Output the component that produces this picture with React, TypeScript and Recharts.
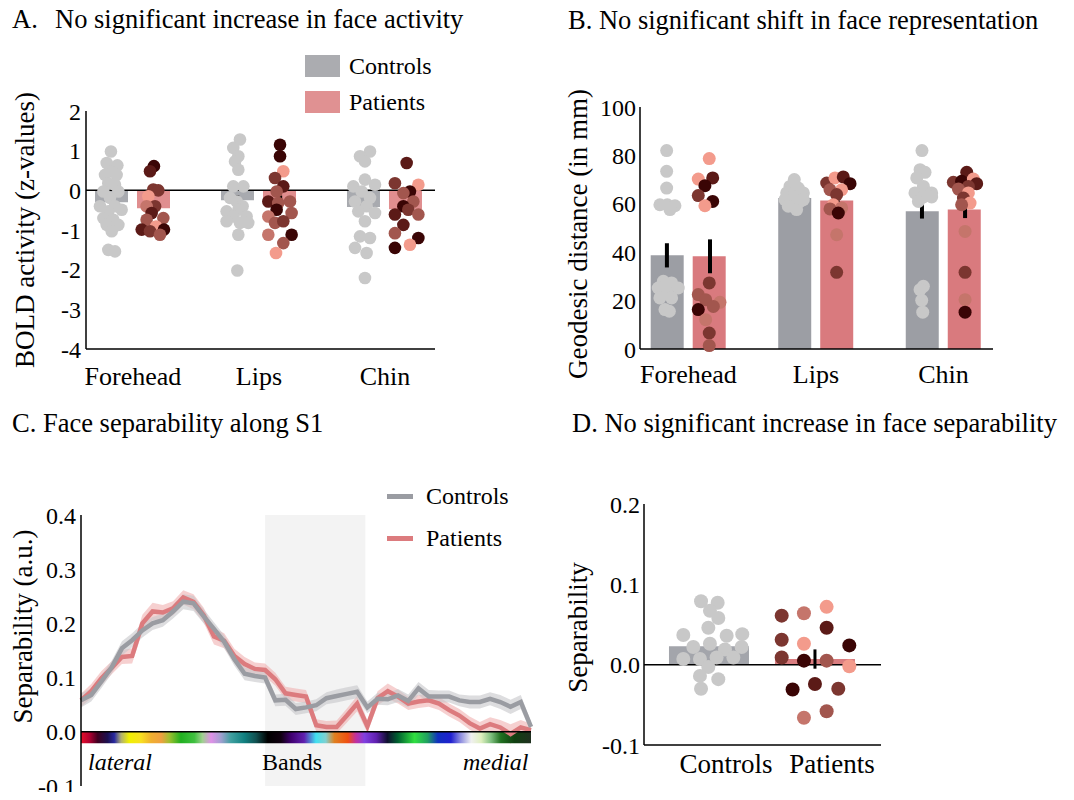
import {
  ComposedChart, Bar, Scatter, Line, Area, XAxis, YAxis, ReferenceLine, ReferenceArea,
  ErrorBar, Legend, Cell,
} from 'recharts';

const FONT = '"Liberation Serif", "DejaVu Serif", serif';

// shared
const faceParts = ['Forehead', 'Lips', 'Chin'];
const groupNames = ['Controls', 'Patients'];
const patientShades = ['#3a0505', '#5b1a17', '#7c3630', '#a2564e', '#c5756b', '#f39b8c'];
const controlDot = '#c8c8c8';

// A. BOLD activity (z-values)
const activityControls = [-0.3, -0.25, -0.42];
const activityPatients = [-0.45, -0.35, -0.48];
const activityControlsSem = [0.07, 0.12, 0.08];
const activityPatientsSem = [0.1, 0.22, 0.12];
const activityTicks = [-4, -3, -2, -1, 0, 1, 2];
// [x, z]
const activityControlPts = [
  [-0.175, 0.98], [-0.209, 0.69], [-0.124, 0.63], [-0.183, 0.48], [-0.222, 0.39], [-0.13, 0.39],
  [-0.196, 0.18], [-0.143, 0.14], [-0.235, -0.03], [-0.116, -0.03], [-0.183, -0.19], [-0.262, -0.4],
  [-0.143, -0.4], [-0.196, -0.53], [-0.09, -0.49], [-0.235, -0.7], [-0.156, -0.74], [-0.209, -0.87],
  [-0.116, -0.87], [-0.169, -1.03], [-0.196, -1.5], [-0.143, -1.54],
  [0.849, 1.28], [0.796, 1.07], [0.836, 0.86], [0.81, 0.73], [0.836, 0.52], [0.796, 0.1],
  [0.876, 0.1], [0.77, -0.19], [0.823, -0.28], [0.87, -0.4], [0.743, -0.53], [0.836, -0.49],
  [0.796, -0.66], [0.902, -0.66], [0.743, -0.78], [0.849, -0.82], [0.915, -0.82], [0.836, -1.12],
  [0.828, -2.02],
  [1.881, 0.98], [1.802, 0.86], [1.841, 0.73], [1.841, 0.27], [1.749, 0.1], [1.921, 0.14],
  [1.815, -0.03], [1.881, -0.19], [1.762, -0.28], [1.854, -0.4], [1.788, -0.53], [1.921, -0.57],
  [1.841, -0.78], [1.802, -1.16], [1.881, -1.2], [1.762, -1.45], [1.854, -1.58], [1.841, -2.21],
];
// [x, z, shade]
const activityPatientPts = [
  [0.166, 0.61, 0], [0.135, 0.48, 1], [0.161, 0.02, 2], [0.201, 0.0, 2], [0.122, -0.15, 5],
  [0.175, -0.4, 2], [0.108, -0.4, 4], [0.148, -0.57, 1], [0.108, -0.74, 3], [0.241, -0.7, 3],
  [0.069, -0.99, 1], [0.183, -0.91, 5], [0.135, -1.03, 2], [0.246, -0.99, 0], [0.214, -1.12, 3],
  [1.167, 1.15, 0], [1.167, 0.86, 0], [1.193, 0.48, 5], [1.127, 0.31, 2], [1.193, 0.1, 1],
  [1.14, -0.03, 3], [1.074, -0.28, 1], [1.153, -0.32, 3], [1.246, -0.28, 3], [1.14, -0.49, 0],
  [1.074, -0.66, 4], [1.259, -0.57, 3], [1.127, -0.82, 3], [1.193, -0.78, 2], [1.074, -1.12, 4],
  [1.259, -1.12, 0], [1.193, -1.33, 3], [1.135, -1.58, 5],
  [2.172, 0.69, 1], [2.079, 0.18, 2], [2.265, 0.14, 5], [2.198, -0.03, 0], [2.146, -0.07, 3],
  [2.225, -0.28, 3], [2.146, -0.4, 0], [2.079, -0.61, 1], [2.185, -0.49, 2], [2.265, -0.61, 3],
  [2.146, -0.87, 1], [2.079, -1.08, 3], [2.265, -1.2, 0], [2.198, -1.37, 5], [2.079, -1.45, 0],
];

// B. Geodesic distance (in mm)
const distanceControls = [38.7, 62.4, 56.9];
const distancePatients = [38.3, 61.4, 57.6];
const distanceControlsSem = [5, 2, 3];
const distancePatientsSem = [7, 3, 3.5];
const distanceTicks = [0, 20, 40, 60, 80, 100];
const distanceControlPts = [
  [-0.171, 82], [-0.171, 73.4], [-0.171, 66.5], [-0.224, 59.6], [-0.166, 59.6], [-0.106, 59.2],
  [-0.145, 57.6], [-0.197, 28], [-0.132, 27.3], [-0.237, 25.2], [-0.08, 25.2], [-0.171, 23.8],
  [-0.224, 21.1], [-0.132, 21.1], [-0.184, 16.3], [-0.15, 15.6],
  [0.83, 70], [0.796, 67.2], [0.861, 66.5], [0.77, 64.5], [0.901, 64.5], [0.822, 63.1],
  [0.757, 61.7], [0.875, 61], [0.809, 59.6], [0.848, 57.6], [0.783, 59], [0.901, 61.7],
  [1.831, 82], [1.816, 74.1], [1.855, 73], [1.79, 70.7], [1.842, 67.2], [1.776, 64.5],
  [1.907, 64.5], [1.842, 62.8], [1.803, 61], [1.907, 62.8], [1.842, 25.9], [1.816, 24.5],
  [1.829, 20.1], [1.837, 15.2],
];
const distancePatientPts = [
  [0.163, 78.7, 5], [0.077, 70.2, 5], [0.19, 70.7, 1], [0.129, 67.5, 0], [0.077, 63.4, 2],
  [0.19, 61, 0], [0.129, 59.2, 5], [0.163, 27.3, 2], [0.077, 22.5, 3], [0.135, 20.4, 3],
  [0.247, 19.3, 4], [0.195, 17.6, 3], [0.077, 16.3, 0], [0.135, 12.1, 4], [0.163, 6.6, 2],
  [0.163, 1.4, 3],
  [1.084, 68.6, 2], [1.149, 70.7, 5], [1.214, 71.1, 1], [1.267, 68.3, 0], [1.11, 65.8, 3],
  [1.201, 65.8, 5], [1.162, 63.8, 2], [1.136, 59.6, 5], [1.201, 58.3, 4], [1.11, 57.9, 3],
  [1.175, 56.2, 0], [1.162, 47.2, 4], [1.162, 31.7, 2],
  [2.182, 73, 1], [2.077, 68.9, 2], [2.142, 69.3, 0], [2.234, 70.2, 5], [2.26, 68.3, 1],
  [2.195, 67.2, 2], [2.117, 66.1, 3], [2.195, 64.5, 5], [2.156, 62.4, 2], [2.208, 60.3, 5],
  [2.142, 59.6, 3], [2.169, 48.6, 4], [2.169, 31.7, 2], [2.169, 20.4, 4], [2.169, 15.2, 0],
];

// C. Separability along S1 (lateral -> medial)
const controlsSep = [
  0.058, 0.068, 0.093, 0.119, 0.154, 0.169, 0.187, 0.2, 0.206, 0.222, 0.24, 0.237, 0.213, 0.19,
  0.166, 0.134, 0.107, 0.103, 0.1, 0.058, 0.059, 0.042, 0.045, 0.049, 0.062, 0.066, 0.07, 0.074,
  0.045, 0.061, 0.06, 0.067, 0.057, 0.08, 0.065, 0.065, 0.065, 0.058, 0.055, 0.055, 0.061, 0.055,
  0.046, 0.055, 0.009,
];
const patientsSep = [
  0.058, 0.075, 0.099, 0.118, 0.138, 0.14, 0.2, 0.222, 0.22, 0.228, 0.248, 0.24, 0.215, 0.176,
  0.168, 0.14, 0.125, 0.116, 0.114, 0.097, 0.071, 0.068, 0.065, 0.012, 0.009, 0.009, 0.03, 0.052,
  0.01, 0.062, 0.075, 0.065, 0.052, 0.056, 0.058, 0.052, 0.04, 0.03, 0.016, 0.006, 0.014, 0.008,
  -0.004, 0.008, 0.003,
];
const controlsSepSem = [
  0.013, 0.012, 0.012, 0.012, 0.013, 0.013, 0.013, 0.012, 0.012, 0.013, 0.014, 0.014, 0.013, 0.012,
  0.012, 0.012, 0.012, 0.011, 0.011, 0.011, 0.011, 0.011, 0.011, 0.011, 0.011, 0.012, 0.012, 0.012,
  0.011, 0.011, 0.011, 0.012, 0.012, 0.012, 0.012, 0.011, 0.011, 0.011, 0.012, 0.012, 0.012, 0.013,
  0.013, 0.013, 0.01,
];
const patientsSepSem = [
  0.012, 0.013, 0.013, 0.012, 0.013, 0.014, 0.016, 0.016, 0.014, 0.013, 0.013, 0.014, 0.014, 0.015,
  0.014, 0.013, 0.013, 0.012, 0.012, 0.012, 0.012, 0.012, 0.012, 0.011, 0.011, 0.012, 0.013, 0.014,
  0.012, 0.013, 0.014, 0.013, 0.012, 0.012, 0.012, 0.012, 0.012, 0.012, 0.012, 0.012, 0.013, 0.014,
  0.018, 0.014, 0.012,
];
const separabilityTicks = [-0.1, 0, 0.1, 0.2, 0.3, 0.4];
const bandsRegion = [18, 27.8];
const bandStops = [
  0, 0.019, 0.037, 0.059, 0.074, 0.089, 0.107, 0.133, 0.156, 0.178, 0.196, 0.222, 0.252, 0.27,
  0.289, 0.311, 0.333, 0.363, 0.389, 0.415, 0.444, 0.467, 0.496, 0.522, 0.544, 0.563, 0.593, 0.611,
  0.63, 0.656, 0.681, 0.704, 0.741, 0.77, 0.793, 0.822, 0.844, 0.867, 0.889, 0.911, 0.933, 0.963, 1,
];
const bandColors = [
  '#e8102a', '#b00030', '#400020', '#1c1050', '#2828a0', '#b0b070', '#f0f000', '#f8e020', '#f0b030',
  '#f0a040', '#a0c030', '#20b020', '#40c040', '#a0d090', '#e090e8', '#a0a0d0', '#40a0a0', '#108080',
  '#105050', '#000000', '#100010', '#400070', '#6020b0', '#40e0f0', '#80d0d0', '#e08020', '#f05010',
  '#c030a0', '#8040e0', '#6020b0', '#101030', '#006030', '#30e040', '#20a060', '#1030c0', '#2020d0',
  '#9090e0', '#f0f0f0', '#e0f0c0', '#80c080', '#207020', '#104010', '#203020',
];

// D. Face separability
const faceSeparability = [0.0228, 0.007];
const faceSeparabilitySem = [0.001, 0.012];
const faceSeparabilityTicks = [-0.1, 0, 0.1, 0.2];
const sepControlPts = [
  [-0.075, 0.079], [0.082, 0.077], [0.009, 0.067], [0.088, 0.058], [-0.242, 0.037], [-0.006, 0.046],
  [0.167, 0.036], [0.314, 0.038], [-0.148, 0.022], [0.009, 0.026], [0.151, 0.019], [0.308, 0.022],
  [-0.242, 0.007], [-0.085, 0.007], [0.072, 0.009], [0.23, 0.009], [-0.006, -0.003], [-0.085, -0.014],
  [0.088, -0.018], [-0.075, -0.03],
];
const sepPatientPts = [
  [0.686, 0.061, 2], [0.896, 0.064, 4], [1.11, 0.072, 5], [1.11, 0.046, 1], [0.686, 0.031, 2],
  [0.896, 0.026, 5], [1.324, 0.024, 0], [0.686, 0.009, 2], [0.896, 0.005, 0], [1.11, 0.005, 3],
  [1.324, -0.002, 5], [0.789, -0.031, 0], [1.0, -0.024, 1], [1.22, -0.03, 2], [0.896, -0.066, 4],
  [1.11, -0.058, 3],
];

const tickStyle = { fill: '#000', fontSize: 24, fontFamily: FONT };
const axisStyle = { stroke: '#000', strokeWidth: 1.5 };

const toPts = (pts: number[][], fill?: string) =>
  pts.map(([x, y, s]) => ({ x, y, fill: fill ?? patientShades[s] }));

const dotShape = (r: number) => (p: any) => <circle cx={p.cx} cy={p.cy} r={r} fill={p.payload.fill} />;
const noShape = () => <g />;

const means = (vals: number[], sems: number[], shift: number) =>
  vals.map((v, i) => ({ x: i + shift, y: v, err: sems[i] }));

const yLabel = (text: string, gap: number, shift = 0) => (props: any) => {
  const { x, y, width, height } = props.viewBox;
  const cx = x + width - gap;
  const cy = y + height / 2 + shift;
  return (
    <text x={cx} y={cy} transform={`rotate(-90 ${cx} ${cy})`} textAnchor="middle"
      dominantBaseline="central" fontSize={27} fontFamily={FONT} fill="#000">
      {text}
    </text>
  );
};

const boxLegend = (colors: string[]) => () => (
  <div style={{ fontFamily: FONT, fontSize: 24, color: '#000' }}>
    {groupNames.map((name, i) => (
      <div key={name} style={{ display: 'flex', alignItems: 'center', height: 36 }}>
        <span style={{ width: 35, height: 22, background: colors[i], marginRight: 9 }} />
        {name}
      </div>
    ))}
  </div>
);

const lineLegend = (colors: string[]) => () => (
  <div style={{ fontFamily: FONT, fontSize: 24, color: '#000' }}>
    {groupNames.map((name, i) => (
      <div key={name} style={{ display: 'flex', alignItems: 'center', height: 42 }}>
        <span style={{ width: 26, height: 5, background: colors[i], marginRight: 13 }} />
        {name}
      </div>
    ))}
  </div>
);

function ActivityChart() {
  const bars = faceParts.map((_, i) => ({ x: i, controls: activityControls[i], patients: activityPatients[i] }));
  const domain = [-0.373, 2.397];
  return (
    <ComposedChart width={540} height={440} data={bars} margin={{ top: 111, right: 105, bottom: 51, left: 26 }} barGap={9}>
      <XAxis xAxisId="cat" type="number" dataKey="x" domain={domain} allowDataOverflow ticks={[0, 1, 2]} interval={0}
        tickFormatter={(v) => faceParts[v]} axisLine={axisStyle} tickLine={false} tickSize={0} tickMargin={18}
        height={40} tick={{ ...tickStyle, fontSize: 26 }} />
      <XAxis xAxisId="pts" type="number" dataKey="x" domain={domain} allowDataOverflow hide />
      <YAxis type="number" domain={[-4, 2]} ticks={activityTicks} interval={0} width={60} axisLine={axisStyle}
        tickLine={false} tickSize={0} tickMargin={5} tick={tickStyle} label={yLabel('BOLD activity (z-values)', 61)} />
      <Bar xAxisId="cat" dataKey="controls" fill="#a8aaaf" barSize={33} isAnimationActive={false} />
      <Bar xAxisId="cat" dataKey="patients" fill="#e08e8f" barSize={33} isAnimationActive={false} />
      <ReferenceLine xAxisId="cat" y={0} stroke="#000" strokeWidth={1.5} />
      <Scatter xAxisId="pts" data={toPts(activityControlPts, controlDot)} dataKey="y" shape={dotShape(6.3)} isAnimationActive={false} />
      <Scatter xAxisId="pts" data={toPts(activityPatientPts)} dataKey="y" shape={dotShape(6.3)} isAnimationActive={false} />
      <Scatter xAxisId="pts" data={[...means(activityControls, activityControlsSem, -0.17), ...means(activityPatients, activityPatientsSem, 0.17)]}
        dataKey="y" shape={noShape} isAnimationActive={false}>
        <ErrorBar dataKey="err" direction="y" width={0} stroke="#000" strokeWidth={3.5} />
      </Scatter>
      <Legend content={boxLegend(['#abacb0', '#e09192'])} layout="vertical" align="center" verticalAlign="middle"
        wrapperStyle={{ left: 305, top: 48, width: 'auto' }} />
    </ComposedChart>
  );
}

function DistanceChart() {
  const bars = faceParts.map((_, i) => ({ x: i, controls: distanceControls[i], patients: distancePatients[i] }));
  const domain = [-0.38, 2.388];
  return (
    <ComposedChart width={534} height={440} data={bars} margin={{ top: 107, right: 81, bottom: 51, left: 40 }} barGap={9}>
      <XAxis xAxisId="cat" type="number" dataKey="x" domain={domain} allowDataOverflow ticks={[0, 1, 2]} interval={0}
        tickFormatter={(v) => faceParts[v]} axisLine={axisStyle} tickLine={false} tickSize={0} tickMargin={16}
        height={40} tick={{ ...tickStyle, fontSize: 26 }} />
      <XAxis xAxisId="pts" type="number" dataKey="x" domain={domain} allowDataOverflow hide />
      <YAxis type="number" domain={[0, 100]} ticks={distanceTicks} interval={0} width={60} axisLine={axisStyle}
        tickLine={false} tickSize={0} tickMargin={4} tick={tickStyle} label={yLabel('Geodesic distance (in mm)', 62, 6)} />
      <Bar xAxisId="cat" dataKey="controls" fill="#9c9ea4" barSize={33} isAnimationActive={false} />
      <Bar xAxisId="cat" dataKey="patients" fill="#d97a7e" barSize={33} isAnimationActive={false} />
      <Scatter xAxisId="pts" data={toPts(distanceControlPts, controlDot)} dataKey="y" shape={dotShape(6.5)} isAnimationActive={false} />
      <Scatter xAxisId="pts" data={toPts(distancePatientPts)} dataKey="y" shape={dotShape(6.5)} isAnimationActive={false} />
      <Scatter xAxisId="pts" data={[...means(distanceControls, distanceControlsSem, -0.169), ...means(distancePatients, distancePatientsSem, 0.169)]}
        dataKey="y" shape={noShape} isAnimationActive={false}>
        <ErrorBar dataKey="err" direction="y" width={0} stroke="#000" strokeWidth={4} />
      </Scatter>
    </ComposedChart>
  );
}

function SeparabilityProfile() {
  const rows = controlsSep.map((c, i) => ({
    x: i,
    controls: c,
    patients: patientsSep[i],
    controlsBand: [c - controlsSepSem[i], c + controlsSepSem[i]],
    patientsBand: [patientsSep[i] - patientsSepSem[i], patientsSep[i] + patientsSepSem[i]],
  }));
  return (
    <ComposedChart width={540} height={360} data={rows} margin={{ top: 75, right: 9, bottom: 14, left: 21 }}>
      <defs>
        <linearGradient id="bandsGradient" x1="0" y1="0" x2="1" y2="0">
          {bandStops.map((s, i) => <stop key={i} offset={s} stopColor={bandColors[i]} />)}
        </linearGradient>
      </defs>
      <XAxis type="number" dataKey="x" domain={[0, controlsSep.length - 1]} hide />
      <YAxis type="number" domain={[-0.1, 0.4]} ticks={separabilityTicks} interval={0} width={60} axisLine={axisStyle}
        tickLine={false} tickSize={0} tickMargin={5} tick={tickStyle} tickFormatter={(v) => v.toFixed(1)}
        label={yLabel('Separability (a.u.)', 58, -24)} />
      <ReferenceArea x1={bandsRegion[0]} x2={bandsRegion[1]} y1={-0.1} y2={0.4} fill="#f3f3f3" fillOpacity={1} stroke="none" />
      <Area type="linear" dataKey="patientsBand" stroke="none" fill="#efa9aa" fillOpacity={0.55} legendType="none" isAnimationActive={false} />
      <Area type="linear" dataKey="controlsBand" stroke="none" fill="#c6c7ca" fillOpacity={0.6} legendType="none" isAnimationActive={false} />
      <Line type="linear" dataKey="patients" stroke="#dc7b7e" strokeWidth={4.5} dot={false} isAnimationActive={false} />
      <Line type="linear" dataKey="controls" stroke="#9a9ca2" strokeWidth={4.5} dot={false} isAnimationActive={false} />
      <ReferenceArea x1={0} x2={controlsSep.length - 1} y1={-0.021} y2={0} fill="url(#bandsGradient)" fillOpacity={1} stroke="none" />
      <ReferenceLine y={0} stroke="#000" strokeWidth={1.5} />
      <Legend content={lineLegend(['#9a9ca2', '#dc7b7e'])} layout="vertical" align="center" verticalAlign="middle"
        wrapperStyle={{ left: 387, top: 35, width: 'auto' }} />
    </ComposedChart>
  );
}

function SeparabilityChart() {
  const bars = groupNames.map((_, i) => ({ x: i, value: faceSeparability[i] }));
  const barColors = ['#a3a5ab', '#d97d80'];
  const domain = [-0.613, 1.623];
  return (
    <ComposedChart width={534} height={360} data={bars} margin={{ top: 64, right: 193, bottom: 15, left: 44 }}>
      <XAxis xAxisId="cat" type="number" dataKey="x" domain={domain} allowDataOverflow ticks={[0, 1]} interval={0}
        tickFormatter={(v) => groupNames[v]} axisLine={axisStyle} tickLine={false} tickSize={0} tickMargin={9}
        height={40} tick={{ ...tickStyle, fontSize: 27, dx: 17 }} />
      <XAxis xAxisId="pts" type="number" dataKey="x" domain={domain} allowDataOverflow hide />
      <YAxis type="number" domain={[-0.1, 0.2]} ticks={faceSeparabilityTicks} interval={0} width={60} axisLine={axisStyle}
        tickLine={false} tickSize={0} tickMargin={4} tick={tickStyle} tickFormatter={(v) => v.toFixed(1)}
        label={yLabel('Separability', 66, 3)} />
      <Bar xAxisId="cat" dataKey="value" barSize={80} isAnimationActive={false}>
        {bars.map((_, i) => <Cell key={i} fill={barColors[i]} />)}
      </Bar>
      <ReferenceLine xAxisId="cat" y={0} stroke="#000" strokeWidth={1.5} />
      <Scatter xAxisId="pts" data={toPts(sepControlPts, controlDot)} dataKey="y" shape={dotShape(7)} isAnimationActive={false} />
      <Scatter xAxisId="pts" data={toPts(sepPatientPts)} dataKey="y" shape={dotShape(7)} isAnimationActive={false} />
      <Scatter xAxisId="pts" data={means(faceSeparability, faceSeparabilitySem, 0)} dataKey="y" shape={noShape} isAnimationActive={false}>
        <ErrorBar dataKey="err" direction="y" width={0} stroke="#000" strokeWidth={3} />
      </Scatter>
    </ComposedChart>
  );
}

const titleStyle = { position: 'absolute' as const, fontSize: 26.5, lineHeight: '27px', color: '#000', whiteSpace: 'nowrap' as const };
const noteStyle = { position: 'absolute' as const, fontSize: 24, lineHeight: '24px', color: '#000', whiteSpace: 'nowrap' as const };

export default function App() {
  return (
    <div style={{ position: 'relative', width: 1074, height: 800, margin: -8, background: '#fff', fontFamily: FONT, overflow: 'hidden' }}>
      <div style={{ position: 'absolute', left: 0, top: 0 }}><ActivityChart /></div>
      <div style={{ position: 'absolute', left: 540, top: 0 }}><DistanceChart /></div>
      <div style={{ position: 'absolute', left: 0, top: 440 }}><SeparabilityProfile /></div>
      <div style={{ position: 'absolute', left: 540, top: 440 }}><SeparabilityChart /></div>

      <div style={{ ...titleStyle, left: 12, top: 6 }}>A.</div>
      <div style={{ ...titleStyle, left: 55, top: 6 }}>No significant increase in face activity</div>
      <div style={{ ...titleStyle, left: 568, top: 7 }}>B. No significant shift in face representation</div>
      <div style={{ ...titleStyle, left: 12, top: 410 }}>C. Face separability along S1</div>
      <div style={{ ...titleStyle, left: 572, top: 410 }}>D. No significant increase in face separability</div>

      <div style={{ ...noteStyle, left: 88, top: 750, fontStyle: 'italic' }}>lateral</div>
      <div style={{ ...noteStyle, left: 262, top: 750 }}>Bands</div>
      <div style={{ ...noteStyle, left: 463, top: 750, fontStyle: 'italic' }}>medial</div>
    </div>
  );
}
